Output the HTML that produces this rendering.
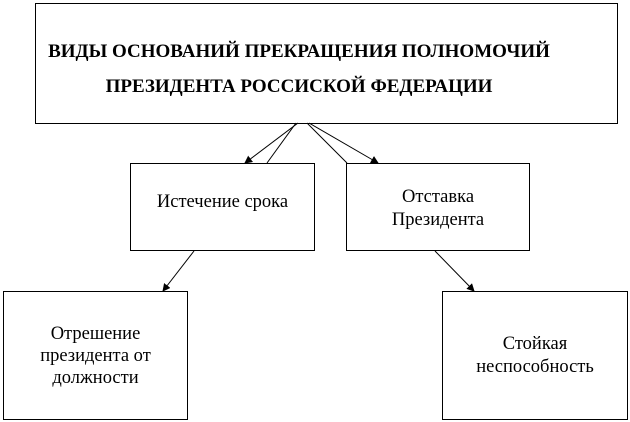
<!DOCTYPE html>
<html><head><meta charset="utf-8"><style>
body{margin:0;background:#fff;width:630px;height:422px;position:relative;overflow:hidden;font-family:"Liberation Serif",serif;}
.b{position:absolute;border:1px solid #000;box-sizing:border-box;display:flex;align-items:center;justify-content:center;text-align:center;font-size:18.5px;line-height:23px;color:#000;}
</style></head><body>
<div class="b" style="left:35px;top:3px;width:583px;height:121px;font-weight:bold;font-size:19px;line-height:35px;padding-top:10px;padding-right:55px;">ВИДЫ ОСНОВАНИЙ ПРЕКРАЩЕНИЯ ПОЛНОМОЧИЙ<br>ПРЕЗИДЕНТА РОССИСКОЙ ФЕДЕРАЦИИ</div>
<div class="b" style="left:130px;top:163px;width:185px;height:88px;align-items:flex-start;padding-top:27px;">Истечение срока</div>
<div class="b" style="left:346px;top:163px;width:184px;height:88px;padding-top:4px;">Отставка<br>Президента</div>
<div class="b" style="left:3px;top:291px;width:185px;height:129px;line-height:22px;">Отрешение<br>президента от<br>должности</div>
<div class="b" style="left:442px;top:291px;width:186px;height:129px;">Стойкая<br>неспособность</div>
<svg width="630" height="422" style="position:absolute;left:0;top:0">
<defs><marker id="a" markerWidth="8" markerHeight="8" refX="7" refY="4" orient="auto" markerUnits="userSpaceOnUse"><path d="M0,0L8,4L0,8z" fill="#000"/></marker></defs>
<g stroke="#000" stroke-width="1" fill="none">
<line x1="298" y1="123" x2="245" y2="163" marker-end="url(#a)"/>
<line x1="296" y1="123" x2="267" y2="163"/>
<line x1="307" y1="123" x2="347" y2="163"/>
<line x1="309" y1="123" x2="378" y2="163" marker-end="url(#a)"/>
<line x1="194" y1="251" x2="163" y2="291" marker-end="url(#a)"/>
<line x1="435" y1="251" x2="474" y2="291" marker-end="url(#a)"/>
</g></svg>
</body></html>
